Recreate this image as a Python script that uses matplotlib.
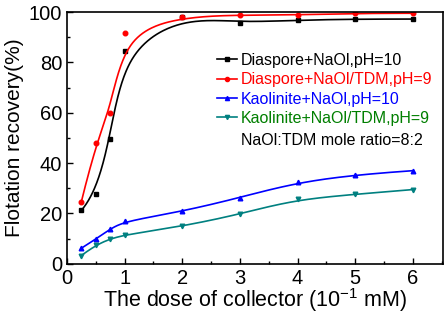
import numpy as np
import matplotlib
matplotlib.use("Agg")
import matplotlib.pyplot as plt
from matplotlib.ticker import MultipleLocator

plt.rcParams['font.family'] = ['Liberation Sans', 'DejaVu Sans']

# data
dose = [0.25, 0.5, 0.75, 1, 2, 3, 4, 5, 6]
diaspore_naol = [21.2, 27.9, 49.6, 84.7, 97.9, 95.8, 96.8, 97.2, 97.2]
diaspore_tdm = [24.6, 47.9, 59.8, 91.5, 98.1, 98.8, 98.8, 99.5, 99.5]
kaolinite_naol = [6.2, 9.8, 13.9, 16.9, 20.8, 26.3, 32.5, 35.4, 37.0]
kaolinite_tdm = [3.3, 7.5, 9.9, 11.5, 14.9, 19.7, 25.9, 27.6, 29.5]

labels = ['Diaspore+NaOl,pH=10', 'Diaspore+NaOl/TDM,pH=9',
          'Kaolinite+NaOl,pH=10', 'Kaolinite+NaOl/TDM,pH=9']
line_colors = ['black', 'red', 'blue', '#008080']
text_colors = ['black', 'red', 'blue', '#007f00']
markers = ['s', 'o', '^', 'v']


def bspline(xs, ys, k=3, n=300):
    """Clamped B-spline through control points (like Origin's B-spline line)."""
    P = np.column_stack([xs, ys])
    m = len(P)
    t = np.concatenate([np.zeros(k), np.linspace(0, 1, m - k + 1), np.ones(k)])
    u = np.linspace(0, 1 - 1e-9, n)
    # Cox-de Boor
    B = np.zeros((n, len(t) - 1))
    for i in range(len(t) - 1):
        B[:, i] = (u >= t[i]) & (u < t[i + 1])
    for d in range(1, k + 1):
        Bn = np.zeros((n, len(t) - 1 - d))
        for i in range(len(t) - 1 - d):
            a = t[i + d] - t[i]
            b = t[i + d + 1] - t[i + 1]
            left = (u - t[i]) / a * B[:, i] if a > 0 else 0
            right = (t[i + d + 1] - u) / b * B[:, i + 1] if b > 0 else 0
            Bn[:, i] = left + right
        B = Bn
    C = B @ P
    C[-1] = P[-1]
    return C[:, 0], C[:, 1]


fig = plt.figure(figsize=(4.46, 3.16), dpi=100)
ax = fig.add_axes([0.150, 0.165, 0.843, 0.797])

series = [diaspore_naol, diaspore_tdm, kaolinite_naol, kaolinite_tdm]
for ys, lab, lc, mk in zip(series, labels, line_colors, markers):
    sx, sy = bspline(dose, ys)
    ax.plot(sx, sy, color=lc, lw=1.2)
    ax.plot(dose, ys, ls='none', marker=mk, color=lc, ms=3.3)
    ax.plot([], [], color=lc, lw=1.2, marker=mk, ms=3, label=lab)

leg = ax.legend(loc='upper left', bbox_to_anchor=(0.40, 0.837), frameon=False,
                fontsize=11.5, handlelength=1.25, handletextpad=0.25,
                labelspacing=0.27, borderaxespad=0, borderpad=0)
for txt, c in zip(leg.get_texts(), text_colors):
    txt.set_color(c)
ax.text(0.463, 0.49, 'NaOl:TDM mole ratio=8:2', transform=ax.transAxes,
        fontsize=11.5, va='center', ha='left')

ax.set_xlim(0, 6.52)
ax.set_ylim(0, 100)
ax.xaxis.set_major_locator(MultipleLocator(1))
ax.xaxis.set_minor_locator(MultipleLocator(0.5))
ax.yaxis.set_major_locator(MultipleLocator(20))
ax.yaxis.set_minor_locator(MultipleLocator(10))
ax.tick_params(which='both', direction='in', top=False, right=False, labelsize=14.5)
ax.tick_params(which='major', length=4, width=1)
ax.tick_params(which='minor', length=2.5, width=1)
for s in ax.spines.values():
    s.set_linewidth(1.2)

ax.set_xlabel('The dose of collector (10$^{\\mathregular{-1}}$ mM)', fontsize=15.5, labelpad=-1)
ax.set_ylabel('Flotation recovery(%)', fontsize=15, labelpad=3)

fig.savefig('out.png', dpi=100)
